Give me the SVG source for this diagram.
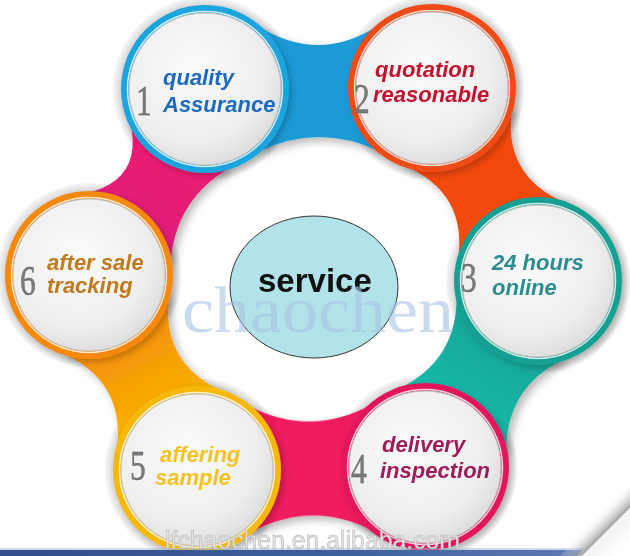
<svg xmlns="http://www.w3.org/2000/svg" width="630" height="556" viewBox="0 0 630 556">
<defs>
<style>
.lbl{font-family:"Liberation Sans",Arial,sans-serif;font-weight:bold;font-style:italic;font-size:22px}
.num{font-family:"Liberation Serif","Times New Roman",serif;font-size:42px;fill:#7a7a7a;stroke:#555;stroke-width:0.4}
.disk{fill:url(#disk);stroke:#c2c2c2;stroke-width:1}
.hl{fill:none;stroke:#ffffff;stroke-width:1.5;opacity:0.8}
.halo{fill:url(#halo)}
.ring{filter:url(#sh2)}
</style>
<radialGradient id="disk" cx="0.42" cy="0.38" r="0.68">
<stop offset="0" stop-color="#fbfbfb"/>
<stop offset="0.7" stop-color="#eeeeee"/>
<stop offset="1" stop-color="#d9d9d9"/>
</radialGradient>
<radialGradient id="halo" cx="0.5" cy="0.5" r="0.5">
<stop offset="0.88" stop-color="#d4d4d4"/>
<stop offset="0.94" stop-color="#e4e4e4"/>
<stop offset="1" stop-color="#f6f6f6"/>
</radialGradient>
<linearGradient id="g34" gradientUnits="userSpaceOnUse" x1="53" y1="0" x2="165" y2="0">
<stop offset="0" stop-color="#13a497"/>
<stop offset="1" stop-color="#19bba9"/>
</linearGradient>
<linearGradient id="g56" gradientUnits="userSpaceOnUse" x1="53" y1="0" x2="170" y2="0">
<stop offset="0" stop-color="#f8b500"/>
<stop offset="1" stop-color="#f58a0c"/>
</linearGradient>
<linearGradient id="g61" gradientUnits="userSpaceOnUse" x1="53" y1="0" x2="166" y2="0">
<stop offset="0" stop-color="#de1a7c"/>
<stop offset="1" stop-color="#ef1b70"/>
</linearGradient>
<linearGradient id="strip" x1="0" y1="0" x2="1" y2="0">
<stop offset="0" stop-color="#2f4f8c"/>
<stop offset="0.6" stop-color="#3d5f9c"/>
<stop offset="1" stop-color="#5b7bb3"/>
</linearGradient>
<linearGradient id="curl" gradientUnits="userSpaceOnUse" x1="606" y1="532" x2="592" y2="518">
<stop offset="0" stop-color="#8c8c8c" stop-opacity="0.85"/>
<stop offset="1" stop-color="#ffffff" stop-opacity="0"/>
</linearGradient>
<linearGradient id="fold" gradientUnits="userSpaceOnUse" x1="606" y1="532" x2="622" y2="548">
<stop offset="0" stop-color="#f2f2f2"/>
<stop offset="1" stop-color="#ffffff"/>
</linearGradient>
<filter id="sh" x="-20%" y="-20%" width="140%" height="140%">
<feGaussianBlur in="SourceAlpha" stdDeviation="4"/>
<feOffset dx="4" dy="4" result="b"/>
<feFlood flood-color="#000" flood-opacity="0.28"/>
<feComposite in2="b" operator="in"/>
<feMerge><feMergeNode/><feMergeNode in="SourceGraphic"/></feMerge>
</filter>
<filter id="sh2" x="-20%" y="-20%" width="140%" height="140%">
<feGaussianBlur in="SourceAlpha" stdDeviation="3"/>
<feOffset dx="3" dy="3" result="b"/>
<feFlood flood-color="#000" flood-opacity="0.22"/>
<feComposite in2="b" operator="in"/>
<feMerge><feMergeNode/><feMergeNode in="SourceGraphic"/></feMerge>
</filter>
</defs>

<rect width="630" height="556" fill="#ffffff"/>

<g id="halos">
<circle class="halo" cx="205" cy="89" r="92"/>
<circle class="halo" cx="432" cy="88" r="92"/>
<circle class="halo" cx="538" cy="281" r="92"/>
<circle class="halo" cx="425" cy="467" r="92"/>
<circle class="halo" cx="197" cy="470" r="92"/>
<circle class="halo" cx="89" cy="275" r="92"/>
</g>

<g id="connectors" filter="url(#sh)">
<path transform="translate(205,89) rotate(-0.25)" fill="#1b9bd7" d="M53,-63 Q113.5,-24 174,-63 L174,63 Q113.5,34 53,63 Z"/>
<path transform="translate(432,88) rotate(61.2)" fill="#f2490f" d="M53,-63 Q110.1,-17 167.2,-63 L167.2,63 Q110.1,17 53,63 Z"/>
<path transform="translate(538,281) rotate(121.3)" fill="url(#g34)" d="M53,-63 Q108.8,-27 164.6,-63 L164.6,63 Q108.8,27 53,63 Z"/>
<path transform="translate(425,467) rotate(179.25)" fill="#ef1c5e" d="M53,-63 Q114,-31 175,-63 L175,63 Q114,31 53,63 Z"/>
<path transform="translate(197,470) rotate(-119)" fill="url(#g56)" d="M53,-63 Q111.45,-17 169.9,-63 L169.9,63 Q111.45,17 53,63 Z"/>
<path transform="translate(89,275) rotate(-58.05)" fill="url(#g61)" d="M53,-63 Q109.6,13 166.2,-63 L166.2,63 Q109.6,33 53,63 Z"/>
</g>

<g id="node-1">
<circle class="ring" cx="205" cy="89" r="84" fill="#1ea4de"/>
<circle class="hl" cx="205" cy="89" r="77.5"/>
<circle class="disk" cx="205" cy="89" r="76"/>
<text class="num" transform="translate(136,115) scale(0.75,1)">1</text>
<text class="lbl" fill="#1a6ac0" x="163" y="85">quality</text>
<text class="lbl" fill="#1a6ac0" x="163" y="112">Assurance</text>
</g>

<g id="node-2">
<circle class="ring" cx="432" cy="88" r="84" fill="#f04c12"/>
<circle class="hl" cx="432" cy="88" r="77.5"/>
<circle class="disk" cx="432" cy="88" r="76"/>
<text class="num" transform="translate(354,113) scale(0.75,1)">2</text>
<text class="lbl" fill="#c4122e" x="375" y="77">quotation</text>
<text class="lbl" fill="#c4122e" x="373" y="102">reasonable</text>
</g>

<g id="node-3">
<circle class="ring" cx="538" cy="281" r="84" fill="#17a093"/>
<circle class="hl" cx="538" cy="281" r="77.5"/>
<circle class="disk" cx="538" cy="281" r="76"/>
<text class="num" transform="translate(461,292) scale(0.75,1)">3</text>
<text class="lbl" fill="#2b8d8f" x="492" y="270">24 hours</text>
<text class="lbl" fill="#2b8d8f" x="492" y="295">online</text>
</g>

<g id="node-4">
<circle class="ring" cx="425" cy="467" r="84" fill="#e3195c"/>
<circle class="hl" cx="425" cy="467" r="77.5"/>
<circle class="disk" cx="425" cy="467" r="76"/>
<text class="num" transform="translate(351,483) scale(0.75,1)">4</text>
<text class="lbl" fill="#9e1c5a" x="382" y="452">delivery</text>
<text class="lbl" fill="#9e1c5a" x="380" y="478">inspection</text>
</g>

<g id="node-5">
<circle class="ring" cx="197" cy="470" r="84" fill="#f7b80a"/>
<circle class="hl" cx="197" cy="470" r="77.5"/>
<circle class="disk" cx="197" cy="470" r="76"/>
<text class="num" transform="translate(130,480) scale(0.75,1)">5</text>
<text class="lbl" fill="#f5c224" x="160" y="462">affering</text>
<text class="lbl" fill="#f5c224" x="155" y="485">sample</text>
</g>

<g id="node-6">
<circle class="ring" cx="89" cy="275" r="84" fill="#f5880e"/>
<circle class="hl" cx="89" cy="275" r="77.5"/>
<circle class="disk" cx="89" cy="275" r="76"/>
<text class="num" transform="translate(20,295) scale(0.75,1)">6</text>
<text class="lbl" fill="#c07a1c" x="47" y="270">after sale</text>
<text class="lbl" fill="#c07a1c" x="47" y="293">tracking</text>
</g>

<g id="node-center">
<ellipse cx="314" cy="287" rx="84" ry="71" fill="#b2e3e9" stroke="#333" stroke-width="1"/>
<text x="258" y="292" font-family="'Liberation Sans',Arial,sans-serif" font-weight="bold" font-size="33" fill="#111">service</text>
</g>

<g id="watermarks">
<text x="182" y="332" font-family="'Liberation Serif','Times New Roman',serif" font-size="66" textLength="272" lengthAdjust="spacingAndGlyphs" fill="#a6c2e4" fill-opacity="0.6">chaochen</text>
<text x="165" y="549" font-family="'Liberation Sans',Arial,sans-serif" font-size="26" textLength="295" lengthAdjust="spacingAndGlyphs" fill="#e4e4e4" stroke="#b0b0b0" stroke-width="0.5">lfchaochen.en.alibaba.com</text>
</g>

<g id="footer">
<path d="M0,550 L583,550 L577,556 L0,556 Z" fill="url(#strip)"/>
<path d="M0,549 L584,549" stroke="#9fb3d6" stroke-width="1"/>
<path d="M582,556 L630,508 L630,486 L560,556 Z" fill="url(#curl)"/>
<path d="M582,556 L630,508 L630,556 Z" fill="url(#fold)"/>
</g>
</svg>
